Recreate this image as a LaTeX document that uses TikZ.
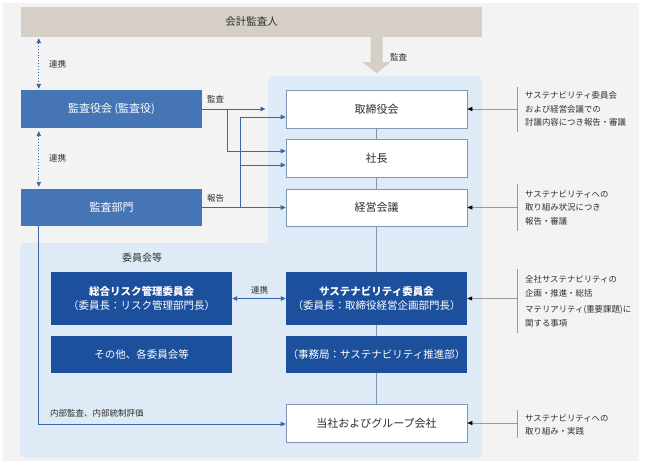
\documentclass[tikz,border=0pt]{standalone}
\usepackage{fontspec}
\setmainfont{Noto Sans CJK JP}
\usetikzlibrary{arrows.meta}
\definecolor{bggray}{HTML}{F3F3F3}
\definecolor{tanc}{HTML}{D5CFC8}
\definecolor{lightblue}{HTML}{DEEBF7}
\definecolor{medblue}{HTML}{4675B6}
\definecolor{darkblue}{HTML}{1C4F9C}
\definecolor{lineblue}{HTML}{3A67A5}
\definecolor{boxline}{HTML}{7F96B6}
\definecolor{txt}{HTML}{2E2E2E}
\definecolor{notegray}{HTML}{9A9A9A}
\definecolor{midline}{HTML}{8496AC}
\begin{document}
\begin{tikzpicture}[x=1pt,y=-1pt,
  every node/.style={inner sep=0pt},
  wbox/.style={draw=boxline, line width=0.6pt, fill=white, minimum width=181pt, font=\fontsize{11}{13}\selectfont, text=txt},
  mbox/.style={fill=medblue, minimum width=181pt, text=white, font=\fontsize{11}{13}\selectfont},
  dbox/.style={fill=darkblue, minimum width=181pt, text=white, font=\fontsize{10.5}{14}\selectfont, align=center},
  lbl/.style={font=\fontsize{8.5}{10}\selectfont, text=txt},
  note/.style={font=\fontsize{8.4}{13.5}\selectfont, text=txt, align=left, anchor=west},
  bl/.style={draw=lineblue, line width=0.8pt},
  ar/.style={bl, -{Triangle[length=5pt,width=4.5pt]}},
  dar/.style={bl, {Triangle[length=5pt,width=4.5pt]}-{Triangle[length=5pt,width=4.5pt]}},
  dt/.style={draw=lineblue, line width=0.9pt, dotted, {Triangle[length=5pt,width=4.5pt]}-{Triangle[length=5pt,width=4.5pt]}},
  nl/.style={draw=notegray, line width=0.6pt},
  na/.style={nl, -{Triangle[length=5pt,width=4pt,color=black]}},
  vl/.style={draw=midline, line width=0.7pt}
]
\useasboundingbox (0,0) rectangle (645,464);
\fill[white] (0,0) rectangle (645,464);
\fill[bggray] (3,3) rectangle (639,461);
\fill[lightblue, rounded corners=6pt] (268,76) -- (482,76) -- (482,458) -- (20,458) -- (20,243) -- (268,243) -- cycle;

% nodes
\node[fill=tanc, minimum width=461pt, minimum height=30pt, font=\fontsize{10.5}{12}\selectfont, text=txt] (kaikei) at (251.5,22) {会計監査人};
\node[mbox, minimum height=38pt] (kansayaku) at (111.5,109) {監査役会 (監査役)};
\node[mbox, minimum height=37pt] (kansabu) at (111.5,207.5) {監査部門};
\node[wbox, minimum height=38pt] (torishimari) at (376.5,109) {取締役会};
\node[wbox, minimum height=38pt] (shacho) at (376.5,158) {社長};
\node[wbox, minimum height=37pt] (keiei) at (376.5,207.5) {経営会議};
\node[dbox, minimum height=53pt] (risk) at (141.5,298.5) {\bfseries 総合リスク管理委員会\\（委員長：リスク管理部門長）};
\node[dbox, minimum height=37pt] (other) at (141.5,354.5) {その他、各委員会等};
\node[dbox, minimum height=53pt] (sus) at (376.5,298.5) {\bfseries サステナビリティ委員会\\（委員長：取締役経営企画部門長）};
\node[dbox, minimum height=37pt] (jimu) at (376.5,354.5) {（事務局：サステナビリティ推進部）};
\node[wbox, minimum height=38pt] (tosha) at (376.5,423) {当社およびグループ会社};

\node[font=\fontsize{10}{12}\selectfont, text=txt] (iinkai) at (142,258) {委員会等};

% thick audit arrow
\fill[tanc] (torishimari.north |- kaikei.south) ++(-6,0) -- ++(12,0) -- ++(0,25) -- ++(8,0) -- ++(-14,11) -- ++(-14,-11) -- ++(8,0) -- cycle;
\node[lbl, anchor=west] (kansa0) at (390,57) {監査};

% dotted links
\draw[dt, shorten <=1pt, shorten >=1pt] ([xshift=18pt]kansayaku.north west |- kaikei.south) -- ([xshift=18pt]kansayaku.north west);
\node[lbl, anchor=west] (renkei1) at (49,64) {連携};
\draw[dt, shorten <=3pt, shorten >=2pt] ([xshift=18pt]kansayaku.south west) -- ([xshift=18pt]kansabu.north west);
\node[lbl, anchor=west] (renkei2) at (49,158) {連携};

% audit lines
\coordinate (kaend) at (265.5,109);
\draw[ar] (kansayaku.east) -- (kaend);
\draw[ar] ([xshift=25pt]kansayaku.east) |- ([yshift=7pt]shacho.west);
\node[lbl, anchor=west] (kansa1) at (207,99) {監査};

% report lines
\draw[ar] (kansabu.east) -- (keiei.west);
\draw[ar] ([xshift=38pt]kansabu.east) |- ([yshift=-8pt]torishimari.west);
\draw[ar] ([xshift=38pt]shacho.west -| kansabu.east) ++(0,7) -- ([yshift=-7pt]shacho.west);
\node[lbl, anchor=west] (hokoku) at (207,198) {報告};

% center vertical line
\draw[vl] (torishimari.south) -- (shacho.north);
\draw[vl] (shacho.south) -- (keiei.north);
\draw[vl] (keiei.south) -- (sus.north);
\draw[vl] (sus.south) -- (jimu.north);
\draw[vl] (jimu.south) -- (tosha.north);

% renkei between committees
\draw[dar] (risk.east) -- (sus.west);
\node[lbl] (renkei3) at (259.5,290) {連携};

% internal audit
\draw[ar] ([xshift=18pt]kansabu.south west) |- ([yshift=-1pt]tosha.west);
\node[lbl, anchor=west] (naibu) at (50,413) {内部監査、内部統制評価};

% right notes
\coordinate (n1) at (517,109);
\draw[nl] (517,87) -- (517,132);
\draw[na] (n1) -- (torishimari.east);
\node[note] (t1) at (525,109) {サステナビリティ委員会\\および経営会議での\\討議内容につき報告・審議};

\coordinate (n2) at (517,207.5);
\draw[nl] (517,184) -- (517,231);
\draw[na] (n2) -- (keiei.east);
\node[note] (t2) at (525,207.5) {サステナビリティへの\\取り組み状況につき\\報告・審議};

\coordinate (n3) at (517,298.5);
\draw[nl] (517,269) -- (517,333);
\draw[na] (n3) -- (sus.east);
\node[note] (t3a) at (525,286.5) {全社サステナビリティの\\企画・推進・総括};
\node[note] (t3b) at (525,316.5) {マテリアリティ(重要課題)に\\関する事項};

\coordinate (n4) at (517,423);
\draw[nl] (517,410) -- (517,438);
\draw[na] (n4) -- (tosha.east);
\node[note] (t4) at (525,425) {サステナビリティへの\\取り組み・実践};
\end{tikzpicture}
\end{document}
